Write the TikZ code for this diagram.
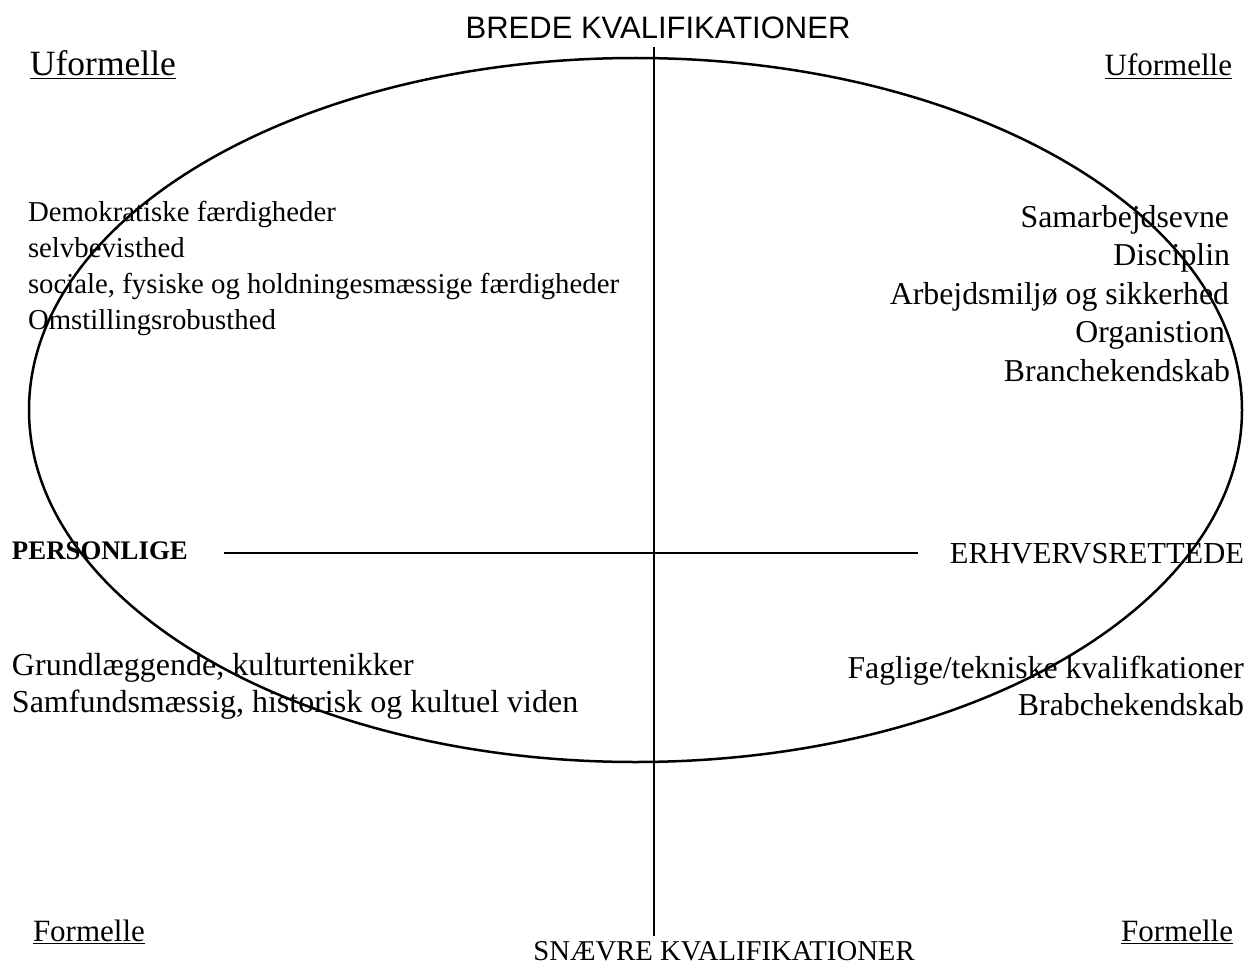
\documentclass[tikz,border=0pt]{standalone}
\usepackage{fontspec}
\setmainfont{Liberation Serif}
\newfontfamily\titlefont{Liberation Sans}
\usetikzlibrary{shapes.geometric}
\begin{document}
\begin{tikzpicture}[x=1pt,y=-1pt,
  lbl/.style={inner sep=0pt, outer sep=0pt},
  lw/.style={lbl, anchor=base west},
  le/.style={lbl, anchor=base east},
  small/.style={font=\fontsize{28.8}{36}\selectfont},
  body/.style={font=\fontsize{31}{38}\selectfont},
  bodyr/.style={font=\fontsize{31.8}{38}\selectfont},
  bodyl/.style={font=\fontsize{32}{38}\selectfont},
  axis/.style={draw, line width=2pt},
]
\useasboundingbox (0,0) rectangle (1254,966);
% oval
\node[ellipse, draw, line width=2.5pt, minimum width=1213pt, minimum height=704pt, inner sep=0pt] (oval) at (635.5,410) {};
% axes
\coordinate (vtop) at (654,47);
\coordinate (vbot) at (654,936);
\coordinate (hleft) at (224,553);
\coordinate (hright) at (918,553);
\draw[axis] (vtop) -- (vbot);
\draw[axis] (hleft) -- (hright);
% titles
\node[lbl, anchor=base, font=\titlefont\fontsize{31}{36}\selectfont] (brede) at (658,39) {BREDE KVALIFIKATIONER};
\node[lbl, anchor=base, font=\fontsize{28.7}{34}\selectfont] (snaevre) at (724,960) {SNÆVRE KVALIFIKATIONER};
% corners
\node[lw, font=\fontsize{35.5}{40}\selectfont] (uf1) at (30,76) {\underline{Uformelle}};
\node[le, body] (uf2) at (1232,76) {\underline{Uformelle}};
\node[lw, body] (f1) at (33,941) {\underline{Formelle}};
\node[le, body] (f2) at (1233,941) {\underline{Formelle}};
% left top block
\node[lw, small] (l1) at (28,221) {Demokratiske færdigheder};
\node[lw, small] (l2) at (28,257) {selvbevisthed};
\node[lw, small] (l3) at (28,293) {sociale, fysiske og holdningesmæssige færdigheder};
\node[lw, small] (l4) at (28,329) {Omstillingsrobusthed};
% right top block
\node[le, bodyr] (r1) at (1229,227) {Samarbejdsevne};
\node[le, bodyr] (r2) at (1230,265) {Disciplin};
\node[le, bodyr] (r3) at (1229,304) {Arbejdsmiljø og sikkerhed};
\node[le, bodyr] (r4) at (1225,342) {Organistion};
\node[le, bodyr] (r5) at (1230,381) {Branchekendskab};
% axis labels
\node[lw, font=\bfseries\fontsize{26.8}{30}\selectfont] (pers) at (12,559) {PERSONLIGE};
\node[le, font=\fontsize{30.5}{34}\selectfont] (erhv) at (1244,563) {ERHVERVSRETTEDE};
% bottom blocks
\node[lw, bodyl] (b1) at (12,675) {Grundlæggende, kulturtenikker};
\node[lw, bodyl] (b2) at (12,712) {Samfundsmæssig, historisk og kultuel viden};
\node[le, bodyr] (b3) at (1244,678) {Faglige/tekniske kvalifkationer};
\node[le, bodyr] (b4) at (1244,715) {Brabchekendskab};
\end{tikzpicture}
\end{document}
